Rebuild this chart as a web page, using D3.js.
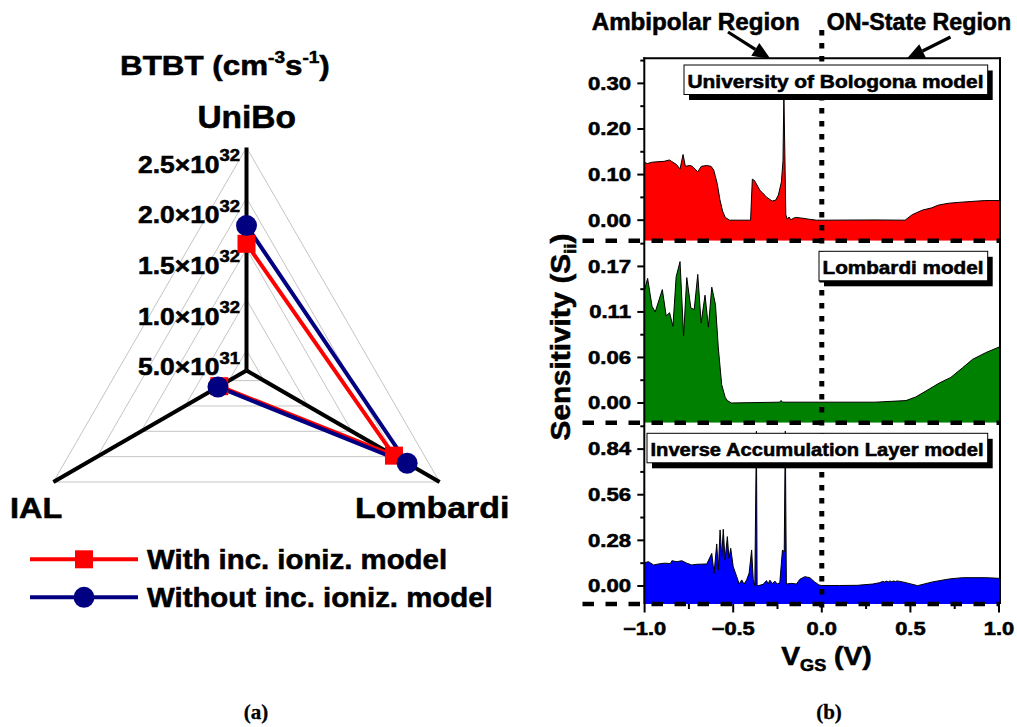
<!DOCTYPE html>
<html><head><meta charset="utf-8">
<script src="https://cdn.jsdelivr.net/npm/d3@7"></script>
<style>
body{margin:0;background:#fff}
svg{display:block}
text{font-family:"Liberation Sans",Arial,sans-serif;font-weight:bold;fill:#000;stroke:#000;stroke-width:0.55px}
text.serif{font-family:"Liberation Serif","Times New Roman",serif;stroke-width:0.3px}
</style>
</head><body>
<svg id="c" width="1017" height="727"></svg>
<script>
// ---------------- DATA ----------------
// (a) radar chart
const radarAxes = ["UniBo", "Lombardi", "IAL"];
const radarTicks = [0.5e32, 1.0e32, 1.5e32, 2.0e32, 2.5e32];
const radarTickMant = ["5.0×10", "1.0×10", "1.5×10", "2.0×10", "2.5×10"];
const radarTickExp = ["31", "32", "32", "32", "32"];
const withIncIoniz = [1.55e32, 1.98e32, 0.61e32];      // UniBo, Lombardi, IAL
const withoutIncIoniz = [1.73e32, 2.13e32, 0.625e32];
const legendNames = ["With inc. ioniz. model", "Without inc. ioniz. model"];

// (b) sensitivity panels : [VGS, S]
const uniboCurve = [[-1.0,0.127],[-0.985,0.124],[-0.96,0.127],[-0.93,0.128],[-0.89,0.129],[-0.86,0.132],[-0.84,0.127],[-0.82,0.122],[-0.80,0.112],[-0.783,0.144],[-0.77,0.118],[-0.745,0.12],[-0.73,0.118],[-0.70,0.106],[-0.68,0.118],[-0.65,0.12],[-0.625,0.118],[-0.61,0.110],[-0.59,0.08],[-0.575,0.045],[-0.56,0.02],[-0.545,0.006],[-0.52,0.0],[-0.402,0.0],[-0.392,0.09],[-0.38,0.087],[-0.35,0.066],[-0.31,0.05],[-0.28,0.042],[-0.26,0.044],[-0.245,0.055],[-0.228,0.084],[-0.219,0.13],[-0.214,0.28],[-0.203,0.012],[-0.195,0.002],[-0.185,0.007],[-0.175,0.001],[-0.15,0.006],[-0.12,0.005],[-0.07,0.002],[-0.03,0.0],[0.0,0.0],[0.3,0.0005],[0.47,0.0],[0.51,0.012],[0.567,0.022],[0.62,0.027],[0.657,0.033],[0.713,0.037],[0.77,0.039],[0.843,0.041],[0.92,0.043],[1.0,0.043]];
const lombardiCurve = [[-1.0,0.142],[-0.983,0.156],[-0.958,0.121],[-0.94,0.114],[-0.90,0.142],[-0.878,0.109],[-0.859,0.113],[-0.84,0.096],[-0.822,0.158],[-0.80,0.177],[-0.78,0.084],[-0.762,0.157],[-0.739,0.119],[-0.72,0.117],[-0.70,0.161],[-0.681,0.100],[-0.659,0.135],[-0.64,0.095],[-0.621,0.145],[-0.60,0.123],[-0.584,0.069],[-0.565,0.023],[-0.545,0.007],[-0.533,0.003],[-0.51,0.0],[-0.24,0.001],[-0.23,0.003],[-0.22,0.001],[0.3,0.001],[0.475,0.003],[0.53,0.0075],[0.588,0.015],[0.663,0.025],[0.728,0.032],[0.794,0.044],[0.85,0.0545],[0.925,0.063],[1.0,0.070]];
const ialCurve = [[-1.0,0.143],[-0.978,0.149],[-0.949,0.129],[-0.912,0.137],[-0.884,0.14],[-0.855,0.137],[-0.846,0.155],[-0.818,0.149],[-0.79,0.155],[-0.762,0.14],[-0.734,0.129],[-0.705,0.133],[-0.649,0.135],[-0.621,0.20],[-0.608,0.078],[-0.593,0.258],[-0.584,0.098],[-0.574,0.344],[-0.565,0.18],[-0.556,0.348],[-0.546,0.16],[-0.533,0.303],[-0.524,0.17],[-0.514,0.231],[-0.50,0.119],[-0.48,0.057],[-0.466,0.012],[-0.452,0.037],[-0.439,0.012],[-0.424,0.037],[-0.41,0.08],[-0.396,0.221],[-0.387,0.04],[-0.378,0.002],[-0.369,0.95],[-0.365,0.0],[-0.331,0.01],[-0.312,0.033],[-0.303,0.012],[-0.293,0.035],[-0.278,0.015],[-0.265,0.03],[-0.252,0.012],[-0.237,0.02],[-0.222,0.221],[-0.212,0.21],[-0.206,0.95],[-0.2,0.012],[-0.171,0.016],[-0.143,0.012],[-0.124,0.041],[-0.096,0.057],[-0.068,0.051],[-0.04,0.025],[-0.016,0.006],[0.0,0.003],[0.1,0.003],[0.2,0.004],[0.288,0.012],[0.325,0.02],[0.344,0.028],[0.355,0.024],[0.365,0.030],[0.375,0.025],[0.385,0.031],[0.395,0.026],[0.405,0.031],[0.415,0.027],[0.425,0.031],[0.44,0.028],[0.456,0.025],[0.541,0.002],[0.625,0.025],[0.719,0.043],[0.794,0.051],[0.925,0.051],[1.0,0.047]];
const panelNames = ["University of Bologona model", "Lombardi model", "Inverse Accumulation Layer model"];
const panelTickVals = [[0, 0.1, 0.2, 0.3], [0, 0.057, 0.114, 0.171], [0, 0.28, 0.56, 0.84]];
const panelTickLabels = [["0.00","0.10","0.20","0.30"], ["0.00","0.06","0.11","0.17"], ["0.00","0.28","0.56","0.84"]];
const xTickVals = [-1, -0.5, 0, 0.5, 1];
const xTickLabels = ["\u22121.0", "\u22120.5", "0.0", "0.5", "1.0"];
const regionNames = ["Ambipolar Region", "ON-State Region"];

// ---------------- HELPERS ----------------
const svg = d3.select("#c");
function stxt(parent, x, y, size, sx, anchor, pieces, rot) {
  const g = parent.append("g")
    .attr("transform", `translate(${x},${y})${rot ? ` rotate(${rot})` : ""} scale(${sx},1)`);
  const t = g.append("text").attr("text-anchor", anchor).attr("font-size", size);
  pieces.forEach(p => {
    if (typeof p === "string") t.append("tspan").text(p);
    else {
      const ts = t.append("tspan").attr("dy", p.dy || 0).text(p.t);
      if (p.size) ts.attr("font-size", p.size);
    }
  });
  return g;
}

// ---------------- (a) RADAR ----------------
const cx = 246.5, cy = 370.5;
const rScale = d3.scaleLinear().domain([0.3e32, 2.5e32]).range([0, 223]);
const angles = [-90, 30, 150].map(a => a * Math.PI / 180);
const pt = (i, v) => [cx + rScale(v) * Math.cos(angles[i]), cy + rScale(v) * Math.sin(angles[i])];
const rad = svg.append("g");

radarTicks.forEach(t => {
  rad.append("path")
    .attr("d", d3.line()(radarAxes.map((_, i) => pt(i, t))) + "Z")
    .attr("fill", "none").attr("stroke", "#c4c4c4").attr("stroke-width", 1);
});
radarAxes.forEach((_, i) => {
  const p = pt(i, radarTicks[radarTicks.length - 1]);
  rad.append("line").attr("x1", cx).attr("y1", cy).attr("x2", p[0]).attr("y2", p[1])
    .attr("stroke", "#000").attr("stroke-width", 4);
});
radarTicks.forEach((t, k) => {
  const y = pt(0, t)[1];
  stxt(rad, 240, y + 25, 23, 1.15, "end",
    [radarTickMant[k], { t: radarTickExp[k], size: 16, dy: -11.5 }]);
});
const series = [
  { vals: withIncIoniz, color: "#ff0000", marker: "square" },
  { vals: withoutIncIoniz, color: "#000080", marker: "circle" }
];
series.forEach(s => {
  const pts = s.vals.map((v, i) => pt(i, v));
  rad.append("path").attr("d", d3.line()(pts)).attr("fill", "none")
    .attr("stroke", s.color).attr("stroke-width", 4);
});
series.forEach(s => {
  s.vals.forEach((v, i) => {
    const p = pt(i, v);
    if (s.marker === "square")
      rad.append("rect").attr("x", p[0] - 9).attr("y", p[1] - 9).attr("width", 18).attr("height", 18).attr("fill", s.color);
    else
      rad.append("circle").attr("cx", p[0]).attr("cy", p[1]).attr("r", 10.5).attr("fill", s.color);
  });
});
stxt(rad, 246.7, 127.7, 31, 1.08, "middle", [radarAxes[0]]);
stxt(rad, 355, 518, 30, 1.13, "start", [radarAxes[1]]);
stxt(rad, 10, 518, 30, 1.08, "start", [radarAxes[2]]);
stxt(rad, 120, 75, 28, 1.12, "start",
  ["BTBT (cm", { t: "-3", size: 17, dy: -12 }, { t: "s", size: 28, dy: 12 }, { t: "-1", size: 17, dy: -12 }, { t: ")", size: 28, dy: 12 }]);
const legY = [559.3, 597.3];
series.forEach((s, k) => {
  rad.append("line").attr("x1", 30).attr("x2", 138).attr("y1", legY[k]).attr("y2", legY[k])
    .attr("stroke", s.color).attr("stroke-width", 4);
  if (s.marker === "square")
    rad.append("rect").attr("x", 84 - 9).attr("y", legY[k] - 9).attr("width", 18).attr("height", 18).attr("fill", s.color);
  else
    rad.append("circle").attr("cx", 84).attr("cy", legY[k]).attr("r", 10.5).attr("fill", s.color);
  stxt(rad, 147, legY[k] + 10, 28, 1.05, "start", [legendNames[k]]);
});
svg.append("text").attr("class", "serif").attr("x", 256).attr("y", 718.5).attr("text-anchor", "middle")
  .attr("font-size", 21).text("(a)");

// ---------------- (b) SENSITIVITY PANELS ----------------
const xL = 644.3, xR = 1000;
const x = d3.scaleLinear().domain([-1, 1]).range([644.6, 999]);
const panelTop = [58.3, 240.7, 422.7], panelBot = [240.7, 422.7, 604];
const panelDomain = [[-0.045, 0.355], [-0.0247, 0.2032], [-0.1106, 1.002]];
const curves = [uniboCurve, lombardiCurve, ialCurve];
const fills = ["#ff0000", "#008000", "#0000ff"];
const boxTop = [65, 251.3, 433.3];
const boxTextWidth = [296, 161, 333];
const pr = svg.append("g");
const defs = svg.append("defs");
const yScales = panelDomain.map((d, k) => d3.scaleLinear().domain(d).range([panelBot[k], panelTop[k]]));

curves.forEach((c, k) => {
  const y = yScales[k];
  defs.append("clipPath").attr("id", "clip" + k).append("rect")
    .attr("x", xL).attr("y", panelTop[k]).attr("width", xR - xL).attr("height", panelBot[k] - panelTop[k]);
  const g = pr.append("g").attr("clip-path", `url(#clip${k})`);
  g.append("path").datum(c)
    .attr("d", d3.area().x(d => x(d[0])).y0(panelBot[k]).y1(d => y(d[1])))
    .attr("fill", fills[k]);
  g.append("path").datum(c)
    .attr("d", d3.line().x(d => x(d[0])).y(d => y(d[1])))
    .attr("fill", "none").attr("stroke", "#000").attr("stroke-width", 1);
});

pr.append("line").attr("x1", x(0)).attr("x2", x(0)).attr("y1", 30).attr("y2", 610)
  .attr("stroke", "#000").attr("stroke-width", 5).attr("stroke-dasharray", "5.5,7.5");

panelNames.forEach((n, k) => {
  const base = boxTop[k] + 22.7;
  const right = 987.7, textRight = 983.5;
  const left = textRight - boxTextWidth[k] - 3.5;
  const h = 29.5;
  pr.append("rect").attr("x", left + 5).attr("y", boxTop[k] + 5.5).attr("width", right - left).attr("height", h).attr("fill", "#000");
  pr.append("rect").attr("x", left).attr("y", boxTop[k]).attr("width", right - left).attr("height", h)
    .attr("fill", "#fff").attr("stroke", "#000").attr("stroke-width", 1);
  pr.append("text").attr("x", textRight).attr("y", base).attr("text-anchor", "end")
    .attr("font-size", 18.5).attr("textLength", boxTextWidth[k]).attr("lengthAdjust", "spacingAndGlyphs").text(n);
});

pr.append("line").attr("x1", xL).attr("x2", xL).attr("y1", panelTop[0] - 1).attr("y2", 604).attr("stroke", "#000").attr("stroke-width", 2);
pr.append("line").attr("x1", xR).attr("x2", xR).attr("y1", panelTop[0] - 1).attr("y2", 604).attr("stroke", "#000").attr("stroke-width", 2);
pr.append("line").attr("x1", xL - 1).attr("x2", xR + 1).attr("y1", panelTop[0]).attr("y2", panelTop[0]).attr("stroke", "#000").attr("stroke-width", 2);
panelBot.forEach(yb => {
  pr.append("line").attr("x1", 582.5).attr("x2", xR).attr("y1", yb).attr("y2", yb)
    .attr("stroke", "#000").attr("stroke-width", 4.5).attr("stroke-dasharray", "11.5,11.5");
});

yScales.forEach((y, k) => {
  const vals = panelTickVals[k];
  const step = vals[1] - vals[0];
  const dom = panelDomain[k];
  vals.forEach((v, i) => {
    const yy = y(v);
    pr.append("line").attr("x1", xL - 7).attr("x2", xL).attr("y1", yy).attr("y2", yy).attr("stroke", "#000").attr("stroke-width", 2);
    stxt(pr, 631, yy + 6.4, 18, 1.23, "end", [panelTickLabels[k][i]]);
    const m = v + step / 2;
    if (m < dom[1]) {
      const ym = y(m);
      pr.append("line").attr("x1", xL - 4).attr("x2", xL).attr("y1", ym).attr("y2", ym).attr("stroke", "#000").attr("stroke-width", 2);
    }
  });
});
xTickVals.forEach((v, i) => {
  pr.append("line").attr("x1", x(v)).attr("x2", x(v)).attr("y1", 604).attr("y2", 612.5).attr("stroke", "#000").attr("stroke-width", 2);
  stxt(pr, x(v), 635, 17.5, 1.25, "middle", [xTickLabels[i]]);
  if (i < xTickVals.length - 1) {
    const m = (v + xTickVals[i + 1]) / 2;
    pr.append("line").attr("x1", x(m)).attr("x2", x(m)).attr("y1", 604).attr("y2", 609).attr("stroke", "#000").attr("stroke-width", 2);
  }
});
stxt(pr, 826.5, 665, 25, 1.13, "middle", ["V", { t: "GS", size: 16, dy: 6 }, { t: " (V)", size: 25, dy: -6 }]);
stxt(pr, 570, 337, 27, 1.1, "middle", ["Sensitivity (S", { t: "ii", size: 17, dy: 6 }, { t: ")", size: 27, dy: -6 }], -90);

stxt(pr, 591.7, 30, 23, 1.05, "start", [regionNames[0]]);
stxt(pr, 826.7, 30, 23, 1.01, "start", [regionNames[1]]);
function arrow(x1, y1, x2, y2) {
  const ang = Math.atan2(y2 - y1, x2 - x1);
  const L = 18, W = 7.5;
  const bx = x2 - L * Math.cos(ang), by = y2 - L * Math.sin(ang);
  pr.append("line").attr("x1", x1).attr("y1", y1).attr("x2", bx).attr("y2", by)
    .attr("stroke", "#000").attr("stroke-width", 3.2);
  const px = -Math.sin(ang) * W, py = Math.cos(ang) * W;
  pr.append("path").attr("d", `M${x2},${y2}L${bx + px},${by + py}L${bx - px},${by - py}Z`).attr("fill", "#000");
}
arrow(728, 32, 770.5, 59);
arrow(950.5, 37, 906.5, 59);

svg.append("text").attr("class", "serif").attr("x", 829).attr("y", 718.5).attr("text-anchor", "middle")
  .attr("font-size", 21).text("(b)");
</script>
</body></html>
